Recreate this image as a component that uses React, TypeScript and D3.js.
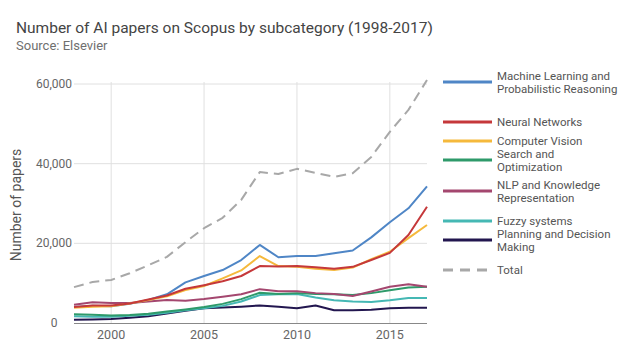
import React from "react";
import * as d3 from "d3";

const years = [1998,1999,2000,2001,2002,2003,2004,2005,2006,2007,2008,2009,2010,2011,2012,2013,2014,2015,2016,2017];

const mlValues = [4000,4300,4200,4800,5800,7200,10200,11800,13300,15800,19600,16500,16800,16800,17500,18200,21500,25300,28800,34300];
const nnValues = [4000,4400,4400,4900,5900,6900,8600,9500,10500,11800,14300,14200,14300,14000,13600,14100,15800,17600,22100,29200];
const cvValues = [3800,4100,4200,4900,5800,6700,8300,9300,11200,13200,16800,14300,14100,13600,13300,13900,16000,17900,21300,24600];
const searchValues = [2200,2100,1900,2000,2300,2900,3400,4000,4800,6000,7600,7300,7500,7300,7200,7000,7500,8200,8900,9100];
const nlpValues = [4600,5200,5000,5000,5400,5800,5600,6000,6600,7200,8500,8000,8000,7500,7300,6800,7900,9100,9700,9100];
const fuzzyValues = [1700,1600,1600,1800,2100,2600,3200,3700,4300,5400,7000,7200,7300,6400,5700,5400,5300,5700,6300,6300];
const planningValues = [800,900,1000,1300,1700,2400,3100,3700,3900,4100,4400,4100,3700,4400,3200,3200,3300,3700,3800,3800];
const totalValues = [9000,10300,10800,12500,14500,16600,20300,23800,26400,30900,37900,37400,38700,37700,36700,37600,41700,48000,53500,61000];

const seriesNames = [
  "Machine Learning and Probabilistic Reasoning",
  "Neural Networks",
  "Computer Vision",
  "Search and Optimization",
  "NLP and Knowledge Representation",
  "Fuzzy systems",
  "Planning and Decision Making",
  "Total",
];
const legendLabels = [
  ["Machine Learning and", "Probabilistic Reasoning"],
  ["Neural Networks"],
  ["Computer Vision"],
  ["Search and", "Optimization"],
  ["NLP and Knowledge", "Representation"],
  ["Fuzzy systems"],
  ["Planning and Decision", "Making"],
  ["Total"],
];
const seriesColors = ["#4f86c6", "#c5383a", "#f5b93c", "#2e9a6a", "#a4476f", "#45b8b4", "#22164f", "#a8a8a8"];
const seriesValues = [mlValues, nnValues, cvValues, searchValues, nlpValues, fuzzyValues, planningValues, totalValues];

const yTicks = [0, 20000, 40000, 60000];
const xTicks = [2000, 2005, 2010, 2015];

const legendLineY = [82, 122, 141, 160, 191, 221, 240, 270];

export default function App() {
  const W = 629, H = 355;
  const x = d3.scaleLinear().domain([1998, 2017]).range([74, 427]);
  const y = d3.scaleLinear().domain([0, 60000]).range([323, 84]);
  const line = d3.line<number>().x((_, i) => x(years[i])).y((d) => y(d)).curve(d3.curveLinear);
  const fmt = d3.format(",");
  const font = "Roboto, 'Noto Sans', sans-serif";

  // draw order: total behind, then others
  const order = [7, 6, 5, 3, 4, 0, 2, 1];

  return (
    <svg width={W} height={H} style={{ position: "absolute", left: 0, top: 0, background: "#fff" }} fontFamily={font}>
      <rect x={0} y={0} width={W} height={H} fill="#fff" />
      <text x={16} y={33} fontSize={15.5} fill="#444">Number of AI papers on Scopus by subcategory (1998-2017)</text>
      <text x={16} y={50} fontSize={13} fill="#6f6f6f">Source: Elsevier</text>

      {/* gridlines */}
      {yTicks.filter((t) => t !== 0).map((t) => (
        <line key={"h" + t} x1={74} x2={427} y1={y(t)} y2={y(t)} stroke="#e0e0e0" strokeWidth={1} />
      ))}
      {xTicks.map((t) => (
        <line key={"v" + t} x1={x(t)} x2={x(t)} y1={82} y2={323} stroke="#e0e0e0" strokeWidth={1} />
      ))}

      {/* y tick labels */}
      {yTicks.map((t) => (
        <text key={"yl" + t} x={54} y={y(t) + 4} fontSize={12} fill="#666" textAnchor="middle">{fmt(t)}</text>
      ))}
      {/* x tick labels */}
      {xTicks.map((t) => (
        <text key={"xl" + t} x={x(t)} y={339} fontSize={12.5} fill="#666" textAnchor="middle">{t}</text>
      ))}

      <text transform={`translate(21,205) rotate(-90)`} fontSize={14} fill="#555" textAnchor="middle">Number of papers</text>

      {/* series */}
      {order.map((i) => (
        <path
          key={seriesNames[i]}
          d={line(seriesValues[i]) || ""}
          fill="none"
          stroke={seriesColors[i]}
          strokeWidth={2}
          strokeDasharray={i === 7 ? "10,6" : undefined}
          strokeLinejoin="round"
        />
      ))}

      {/* baseline */}
      <line x1={74} x2={427} y1={323.5} y2={323.5} stroke="#888" strokeWidth={1} />

      {/* legend */}
      {seriesNames.map((name, i) => {
        const ly = legendLineY[i];
        const labels = legendLabels[i];
        const startY = labels.length === 2 ? ly - 6.5 : ly;
        return (
          <g key={"lg" + name}>
            <line x1={443} x2={492} y1={ly} y2={ly} stroke={seriesColors[i]} strokeWidth={3}
              strokeDasharray={i === 7 ? "10,7" : undefined} />
            {labels.map((lab, j) => (
              <text key={j} x={497} y={startY + j * 13 + 4} fontSize={11.5} fill="#555">{lab}</text>
            ))}
          </g>
        );
      })}
    </svg>
  );
}
